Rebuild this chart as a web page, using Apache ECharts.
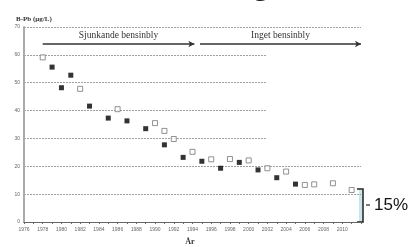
<!DOCTYPE html>
<html>
<head>
<meta charset="utf-8">
<script src="https://cdn.jsdelivr.net/npm/echarts@6/dist/echarts.min.js"></script>
<style>
  html, body { margin: 0; padding: 0; background: #fff; }
  #chart { width: 412px; height: 247px; }
</style>
</head>
<body>
<div id="chart"></div>
<script>
// data
var openYears = [1978, 1982, 1986, 1990, 1991, 1992, 1994, 1996, 1998, 2000, 2002, 2004, 2006, 2007, 2009, 2011];
var openValues = [59.1, 47.8, 40.5, 35.5, 32.7, 29.8, 25.2, 22.5, 22.6, 22.1, 19.3, 18.1, 13.3, 13.5, 13.9, 11.5];
var filledYears = [1979, 1980, 1981, 1983, 1985, 1987, 1989, 1991, 1993, 1995, 1997, 1999, 2001, 2003, 2005];
var filledValues = [55.6, 48.2, 52.7, 41.6, 37.3, 36.3, 33.5, 27.7, 23.2, 21.8, 19.3, 21.4, 18.7, 15.9, 13.6];
var yTicks = [0, 10, 20, 30, 40, 50, 60, 70];

function pairs(xs, ys) {
    return xs.map(function (x, i) { return [x, ys[i]]; });
}

var myChart = echarts.init(document.getElementById('chart'));

var option = {
    animation: false,
    title: {
        text: 'B-Pb (µg/L)',
        left: 11,
        top: 11,
        textStyle: { fontFamily: 'Liberation Serif', fontSize: 7, fontWeight: 'bold', color: '#333' }
    },
    grid: { left: 24, top: 27, right: 51, bottom: 25 },
    xAxis: {
        type: 'value',
        min: 1976,
        max: 2012,
        interval: 1,
        axisLine: { lineStyle: { color: '#666', width: 1 } },
        axisTick: { length: 2, lineStyle: { color: '#666' } },
        axisLabel: {
            fontSize: 5,
            color: '#666',
            margin: 5,
            formatter: function (v) { return (v % 2 === 0 && v <= 2010) ? v : ''; }
        },
        splitLine: { show: false }
    },
    yAxis: {
        type: 'value',
        min: yTicks[0],
        max: yTicks[yTicks.length - 1],
        interval: 10,
        axisLine: { show: true, lineStyle: { color: '#aaa', width: 2 } },
        axisTick: { show: false },
        axisLabel: { fontSize: 5, color: '#666', margin: 4 },
        splitLine: { lineStyle: { color: '#888', type: [2, 1], width: 0.8 } }
    },
    series: [
        {
            type: 'scatter',
            data: pairs(openYears, openValues),
            symbol: 'rect',
            symbolSize: 5,
            itemStyle: { color: '#fff', borderColor: '#777', borderWidth: 1 },
            markLine: {
                silent: true,
                symbol: ['none', 'arrow'],
                symbolSize: [5, 6],
                lineStyle: { color: '#333', width: 1.5, type: 'solid' },
                label: {
                    position: 'middle',
                    fontFamily: 'Liberation Serif',
                    fontSize: 9.5,
                    color: '#333',
                    distance: 3,
                    formatter: '{b}'
                },
                data: [
                    [{ name: 'Sjunkande bensinbly', coord: [1978, 63.9] }, { coord: [1994.2, 63.9] }],
                    [{ name: 'Inget bensinbly', coord: [1994.8, 63.9] }, { coord: [2012, 63.9] }]
                ]
            }
        },
        {
            type: 'scatter',
            data: pairs(filledYears, filledValues),
            symbol: 'rect',
            symbolSize: 5,
            itemStyle: { color: '#000' }
        }
    ],
    graphic: [
        // white patch hiding part of the grid lines, as in the original slide
        { type: 'rect', z: 1, shape: { x: 267, y: 48, width: 96, height: 100 }, style: { fill: '#fff' } },
        // bottom of a big title letter cut off at the top
        { type: 'text', x: 261, y: 2, style: { text: 'g', font: 'bold 34px "Liberation Sans"', fill: '#111', align: 'center', verticalAlign: 'bottom' } },
        { type: 'text', x: 190, y: 242, style: { text: 'År', font: 'bold 8px "Liberation Serif"', fill: '#333', align: 'center', verticalAlign: 'middle' } },
        // 15% bracket
        { type: 'rect', shape: { x: 359, y: 190, width: 4, height: 32 }, style: { fill: '#c9e6ea' } },
        { type: 'polyline', shape: { points: [[357, 189], [363, 189], [363, 222], [357, 222]] }, style: { stroke: '#222', lineWidth: 1.5, fill: null } },
        { type: 'line', shape: { x1: 366, y1: 205, x2: 370, y2: 205 }, style: { stroke: '#222', lineWidth: 1.2 } },
        { type: 'text', x: 374, y: 205, style: { text: '15%', font: '17px "Liberation Sans"', fill: '#111', verticalAlign: 'middle' } }
    ]
};

myChart.setOption(option);
</script>
</body>
</html>
